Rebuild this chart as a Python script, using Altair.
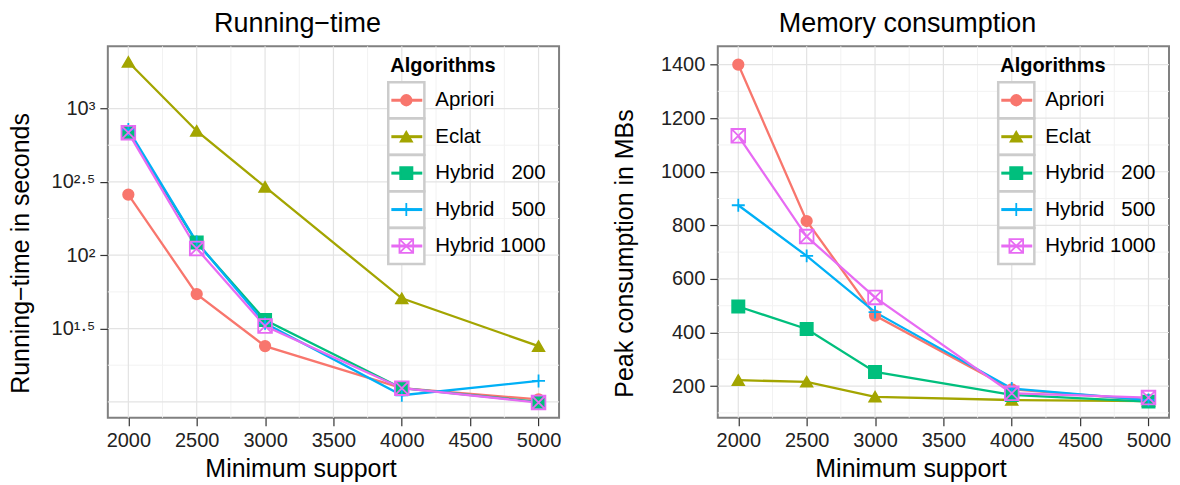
import altair as alt
import pandas as pd

# ---------------- data ----------------
support = [2000, 2500, 3000, 4000, 5000]
algorithms = ["Apriori", "Eclat", "Hybrid 200", "Hybrid 500", "Hybrid 1000"]
legend_labels = ["Apriori", "Eclat", "Hybrid\u00a0\u00a0\u00a0200", "Hybrid\u00a0\u00a0\u00a0500", "Hybrid 1000"]

# running time in seconds
rt_apriori = [259, 54.3, 24.0, 12.4, 10.4]
rt_eclat = [2075, 703, 292, 50.8, 24.0]
rt_h200 = [693, 122, 36.1, 12.4, 10.0]
rt_h500 = [719, 123, 34.3, 11.1, 13.9]
rt_h1000 = [685, 111, 32.9, 12.4, 9.9]

# peak memory in MB
mem_apriori = [1400, 816, 463, 188, 148]
mem_eclat = [222, 216, 160, 148, 144]
mem_h200 = [497, 413, 253, 167, 142]
mem_h500 = [875, 686, 476, 191, 148]
mem_h1000 = [1134, 758, 531, 173, 157]

# ticks / grid
x_ticks = [2000, 2500, 3000, 3500, 4000, 4500, 5000]
x_minor = [2250, 2750, 3250, 3750, 4250, 4750]
rt_ticks = [31.62, 100, 316.2, 1000]
rt_tick_labels = ["10\u00b9\u00b7\u2075", "10\u00b2", "10\u00b2\u00b7\u2075", "10\u00b3"]
rt_major = [10, 31.62, 100, 316.2, 1000]
rt_minor = [17.78, 56.23, 177.8, 562.3]
mem_ticks = [200, 400, 600, 800, 1000, 1200, 1400]
mem_minor = [100, 300, 500, 700, 900, 1100, 1300]

colors = ["#F8766D", "#A3A500", "#00BF7D", "#00B0F6", "#E76BF3"]
fills = ["#F8766D", "#A3A500", "#00BF7D", "transparent", "transparent"]
shapes = ["circle", "triangle-up", "square",
          "M-1,0L1,0M0,-1L0,1",
          "M-1,-1L1,-1L1,1L-1,1ZM-1,-1L1,1M-1,1L1,-1"]
sizes = [110, 188, 110, 441, 156]

FONT = "Liberation Sans"
W, H = 452, 372
LEG_TOP, LEG_STEP = 54, 36.5

rows = []
for name, rt, mem in zip(algorithms,
                         [rt_apriori, rt_eclat, rt_h200, rt_h500, rt_h1000],
                         [mem_apriori, mem_eclat, mem_h200, mem_h500, mem_h1000]):
    for s, r, m in zip(support, rt, mem):
        rows.append({"support": s, "series": name, "runtime": r, "memory": m})
df = pd.DataFrame(rows)
legend_df = pd.DataFrame({"series": algorithms, "label": legend_labels})

color_enc = alt.Color("series:N", scale=alt.Scale(domain=algorithms, range=colors), legend=None)
shape_enc = alt.Shape("series:N", scale=alt.Scale(domain=algorithms, range=shapes), legend=None)
size_enc = alt.Size("series:N", scale=alt.Scale(domain=algorithms, range=sizes), legend=None)
fill_enc = alt.Fill("series:N", scale=alt.Scale(domain=algorithms, range=fills), legend=None)

x_scale = alt.Scale(domain=[1850, 5150], nice=False, zero=False)
x_axis = alt.Axis(values=x_ticks, format="d", title="Minimum support",
                  titleX=193, titleY=59, titleBaseline="alphabetic",
                  titleAlign="center", labelFlush=False)
alg_js = "[" + ",".join(f"'{a}'" for a in algorithms) + "]"


def panel(ycol, y_scale, y_axis, title, major_y, minor_y):
    X = lambda f: alt.X(f, scale=x_scale, axis=x_axis)
    Y = lambda f: alt.Y(f, scale=y_scale, axis=y_axis)
    xg_min = alt.Chart(pd.DataFrame({"v": x_minor})).mark_rule(color="#f2f2f2", strokeWidth=1).encode(
        x=X("v:Q"))
    xg_maj = alt.Chart(pd.DataFrame({"v": x_ticks})).mark_rule(color="#e3e3e3", strokeWidth=1.2).encode(
        x=X("v:Q"))
    yg_min = alt.Chart(pd.DataFrame({"v": minor_y})).mark_rule(color="#f2f2f2", strokeWidth=1).encode(
        y=Y("v:Q"))
    yg_maj = alt.Chart(pd.DataFrame({"v": major_y})).mark_rule(color="#e3e3e3", strokeWidth=1.2).encode(
        y=Y("v:Q"))

    base = alt.Chart(df)
    lines = base.mark_line(strokeWidth=2.3).encode(
        x=X("support:Q"), y=Y(f"{ycol}:Q"), color=color_enc, detail="series:N",
    )
    points = base.mark_point(filled=False, strokeWidth=1.8, opacity=1).encode(
        x=X("support:Q"), y=Y(f"{ycol}:Q"),
        color=color_enc, shape=shape_enc, size=size_enc, fill=fill_enc,
    )

    lb = alt.Chart(legend_df).transform_calculate(
        py=f"{LEG_TOP} + {LEG_STEP} * indexof({alg_js}, datum.series)")
    ly = alt.Y("py:Q", scale=None)
    boxes = lb.mark_point(shape="square", filled=False, fill="white", stroke="#cccccc",
                          strokeWidth=2.5, size=1310, opacity=1).encode(x=alt.value(299), y=ly)
    lrules = lb.mark_rule(strokeWidth=3).encode(x=alt.value(284), x2=alt.value(315), y=ly, color=color_enc)
    lsym = lb.mark_point(filled=False, strokeWidth=1.8, opacity=1).encode(
        x=alt.value(299), y=ly, color=color_enc, shape=shape_enc, size=size_enc, fill=fill_enc)
    ltext = lb.mark_text(align="left", baseline="middle", fontSize=20.5, font=FONT, color="black").encode(
        x=alt.value(328), y=ly, text="label:N")
    ltitle = alt.Chart(pd.DataFrame({"t": ["Algorithms"]})).mark_text(
        align="left", baseline="alphabetic", fontSize=20, fontWeight="bold", font=FONT, color="black"
    ).encode(x=alt.value(283), y=alt.value(26), text="t:N")

    return alt.layer(xg_min, yg_min, xg_maj, yg_maj, lines, points,
                     boxes, lrules, lsym, ltext, ltitle).properties(
        width=W, height=H,
        title=alt.Title(title, anchor="start", align="center", dx=190, offset=-13,
                        baseline="alphabetic", fontSize=27, fontWeight="normal",
                        font=FONT, color="black", frame="group"),
    )


rt_label_expr = " : ".join(
    [f"datum.value < {v * 1.5} ? '{l}'" for v, l in zip(rt_ticks[:-1], rt_tick_labels[:-1])]
) + f" : '{rt_tick_labels[-1]}'"

left = panel(
    "runtime",
    alt.Scale(type="log", domain=[7.8, 2655], nice=False),
    alt.Axis(values=rt_ticks, labelExpr=rt_label_expr, title="Running\u2212time in seconds",
             titleX=-79, titleY=207, titleBaseline="alphabetic", titleAlign="center", titleAngle=-90),
    "Running\u2212time", rt_major, rt_minor,
)
right = panel(
    "memory",
    alt.Scale(domain=[82, 1468], nice=False, zero=False),
    alt.Axis(values=mem_ticks, format="d", title="Peak consumption in MBs",
             titleX=-85, titleY=207, titleBaseline="alphabetic", titleAlign="center", titleAngle=-90),
    "Memory consumption", mem_ticks, mem_minor,
)

chart = alt.hconcat(left, right, spacing=50).properties(
    padding={"left": 0, "top": 0, "right": 0, "bottom": 0}
).configure_view(stroke="#808080", strokeWidth=2).configure_axis(
    domain=False, grid=False, tickColor="#333333", tickSize=8, tickWidth=1.2,
    labelFontSize=20, labelColor="#222222", labelFont=FONT, labelPadding=5,
    titleFontSize=25, titleFontWeight="normal", titleColor="black", titleFont=FONT,
).configure_text(font=FONT)

chart.save("out.html", embed_options={"renderer": "svg", "actions": False})
